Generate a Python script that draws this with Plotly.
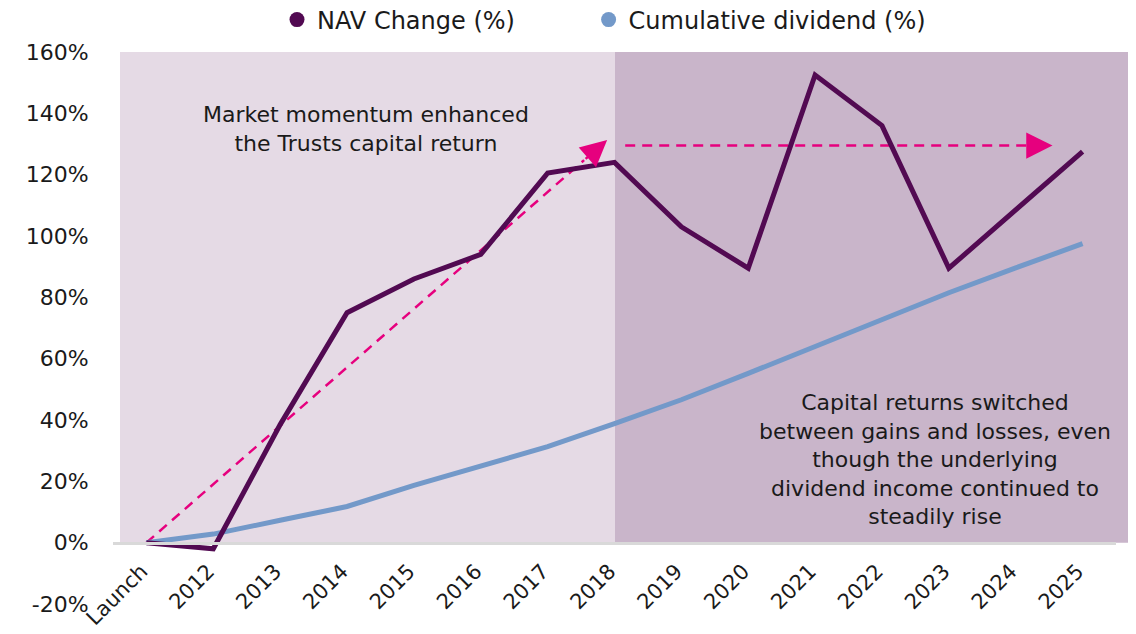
import plotly.graph_objects as go

categories = ["Launch", "2012", "2013", "2014", "2015", "2016", "2017", "2018",
              "2019", "2020", "2021", "2022", "2023", "2024", "2025"]
nav_change = [0, -2, 38.5, 75, 86, 94, 120.5, 124, 103, 89.5, 152.5, 136, 89.5, 108.5, 127.5]
cum_dividend = [0, 2.8, 7.3, 11.8, 18.7, 25, 31.3, 38.8, 46.6, 55.2, 63.9, 72.7, 81.5, 89.6, 97.5]
y_ticks = [-20, 0, 20, 40, 60, 80, 100, 120, 140, 160]
y_ticktext = ["-20%", "0%", "20%", "40%", "60%", "80%", "100%", "120%", "140%", "160%"]

# annotation arrows (category index, value)
arrow1_start = (0, 0)
arrow1_tip = (6.89, 131.3)
arrow2_start = (7.16, 129.5)
arrow2_tip = (13.55, 129.5)

# shaded periods (category index)
light_period = (-0.395, 7.0)
dark_period = (7.0, 14.8)

NAV_COL = "#520A52"
DIV_COL = "#7399C9"
PINK = "#E6007E"
LIGHT = "#E5DAE5"
DARK = "#C9B5CA"
FONT = "DejaVu Sans"
TXT = "#1A1A1A"

W, H = 1136, 634
x_idx = list(range(len(categories)))
n = len(categories)

def to_paper(c):
    return (c + 0.5) / n

fig = go.Figure()

def shaft(start, tip, frac):
    return (tip[0] - frac * (tip[0] - start[0]), tip[1] - frac * (tip[1] - start[1]))

tail1 = shaft(arrow1_start, arrow1_tip, 0.05)
tail2 = shaft(arrow2_start, arrow2_tip, 0.06)

for s, t in [(arrow1_start, tail1), (arrow2_start, tail2)]:
    fig.add_trace(go.Scatter(x=[s[0], t[0]], y=[s[1], t[1]], mode="lines",
                             line=dict(color=PINK, width=2.5, dash="10px,7px"),
                             showlegend=False, hoverinfo="skip"))

fig.add_trace(go.Scatter(x=x_idx, y=cum_dividend, mode="lines",
                         line=dict(color=DIV_COL, width=5), showlegend=False))
fig.add_trace(go.Scatter(x=x_idx, y=nav_change, mode="lines",
                         line=dict(color=NAV_COL, width=5), showlegend=False))

# legend entries
PAD = "\u00a0" * 9
fig.add_trace(go.Scatter(x=[None], y=[None], mode="markers", name="NAV Change (%)" + PAD,
                         marker=dict(color=NAV_COL, size=15, symbol="circle")))
fig.add_trace(go.Scatter(x=[None], y=[None], mode="markers", name="Cumulative dividend (%)",
                         marker=dict(color=DIV_COL, size=15, symbol="circle")))

shapes = [
    dict(type="rect", xref="x", yref="y", x0=light_period[0], x1=light_period[1],
         y0=0, y1=160, fillcolor=LIGHT, line=dict(width=0), layer="below"),
    dict(type="rect", xref="paper", yref="y", x0=to_paper(dark_period[0]), x1=to_paper(dark_period[1]),
         y0=0, y1=160, fillcolor=DARK, line=dict(width=0), layer="below"),
]

annotations = []
for tip, tail in [(arrow1_tip, tail1), (arrow2_tip, tail2)]:
    annotations.append(dict(x=tip[0], y=tip[1], xref="x", yref="y",
                            ax=tail[0], ay=tail[1], axref="x", ayref="y",
                            text="", showarrow=True, arrowhead=2, arrowsize=2.1,
                            arrowwidth=2.5, arrowcolor=PINK))

annotations.append(dict(x=3.28, y=135, xref="x", yref="y",
                        text="Market momentum enhanced<br>the Trusts capital return",
                        showarrow=False, font=dict(family=FONT, size=22, color=TXT),
                        align="center"))
annotations.append(dict(x=11.8, y=27, xref="x", yref="y",
                        text="Capital returns switched<br>between gains and losses, even<br>though the underlying<br>dividend income continued to<br>steadily rise",
                        showarrow=False, font=dict(family=FONT, size=22, color=TXT),
                        align="center"))

fig.update_layout(
    width=W, height=H,
    margin=dict(l=105, r=28, t=44, b=38, autoexpand=False),
    paper_bgcolor="white", plot_bgcolor="white",
    font=dict(family=FONT, size=20, color=TXT),
    shapes=shapes, annotations=annotations,
    showlegend=True,
    legend=dict(orientation="h", xref="container", yref="container",
                x=269 / W, xanchor="left", y=1 - 12 / H, yanchor="middle",
                font=dict(family=FONT, size=24, color=TXT), bgcolor="rgba(0,0,0,0)",
                itemsizing="trace"),
    xaxis=dict(range=[-0.5, n - 0.5], tickvals=x_idx, ticktext=categories,
               tickangle=-45, showgrid=False, zeroline=False,
               showline=True, linecolor="#D9D9D9", linewidth=3,
               anchor="free", position=20 / 180, automargin=False,
               ticklabelstandoff=6, ticklabelshift=-5,
               tickfont=dict(family=FONT, size=21, color=TXT), ticks=""),
    yaxis=dict(range=[-20, 160], tickvals=y_ticks, ticktext=y_ticktext,
               showgrid=False, zeroline=False, showline=False, automargin=False,
               ticks="outside", ticklen=19, tickcolor="rgba(0,0,0,0)",
               tickfont=dict(family=FONT, size=22, color=TXT)),
)

fig.write_html("out.html")
